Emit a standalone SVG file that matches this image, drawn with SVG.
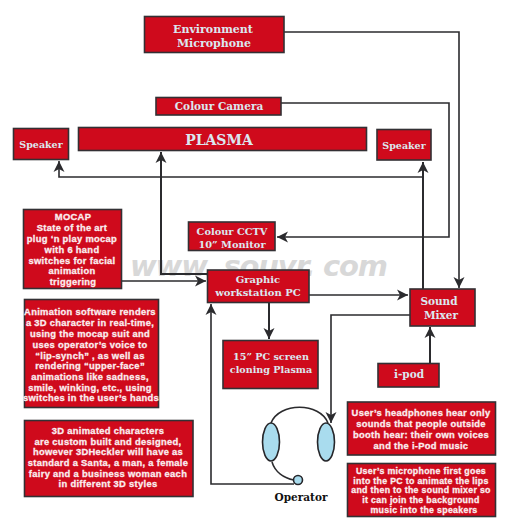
<svg xmlns="http://www.w3.org/2000/svg" width="511" height="532" viewBox="0 0 511 532">
<style>
.b{fill:#cf0a1c;stroke:#333034;stroke-width:1.6}
.s{font-family:"DejaVu Serif",serif;font-weight:700;fill:#dbe8f0;text-anchor:middle;font-size:10.500px}
.a{font-family:"Liberation Sans",Arial,sans-serif;font-weight:700;fill:#fbeef0;stroke:#fbeef0;stroke-width:.3;text-anchor:middle;font-size:9.400px;letter-spacing:.3px}
.m{font-size:8.800px}
.c{fill:none;stroke:#2b2b2e;stroke-width:1.6}
.t{stroke-width:2}
.w{font-family:"DejaVu Sans",sans-serif;font-weight:700;font-style:italic;font-size:29px;fill:#d8d8d8}
.e{fill:#a9dcee;stroke:#26262a;stroke-width:1.6}
</style>
<defs>
<marker id="h" markerUnits="userSpaceOnUse" markerWidth="14" markerHeight="14" refX="11" refY="6" orient="auto"><path d="M0,0.500L11,6L0,11.500L3,6Z" fill="#2b2b2e"/></marker>
</defs>
<text class="w" x="130" y="276" textLength="258">www. souvr. com</text>
<g id="connectors">
<path class="c" d="M284,32H459V288" marker-end="url(#h)"/>
<path class="c" d="M281,103H449V237H277" marker-end="url(#h)"/>
<path class="c" d="M423,177H59V161" marker-end="url(#h)"/>
<path class="c t" d="M423,289V162" marker-end="url(#h)"/>
<path class="c t" d="M207,274H161V152" marker-end="url(#h)"/>
<path class="c" d="M121,281H206" marker-end="url(#h)"/>
<path class="c" d="M309,295H408" marker-end="url(#h)"/>
<path class="c t" d="M269,303V339" marker-end="url(#h)"/>
<path class="c t" d="M430,363V327" marker-end="url(#h)"/>
<path class="c" d="M410,315H331V423" marker-end="url(#h)"/>
<path class="c" d="M294,484H211V304" marker-end="url(#h)"/>
</g>
<g id="env-mic"><rect class="b" x="144.500" y="16.500" width="139.500" height="36"/><text class="s" x="213" y="33" style="font-size:11px">Environment</text><text class="s" x="214" y="47" style="font-size:11px">Microphone</text></g>
<g id="camera"><rect class="b" x="156" y="97.500" width="125" height="17.500"/><text class="s" x="219" y="110">Colour Camera</text></g>
<g id="speaker-left"><rect class="b" x="13.500" y="128.500" width="55" height="31"/><text class="s" x="41" y="148" style="font-size:9.500px">Speaker</text></g>
<g id="plasma"><rect class="b" x="78.500" y="127.500" width="288" height="23"/><text class="s" x="219" y="145" style="font-size:14px">PLASMA</text></g>
<g id="speaker-right"><rect class="b" x="377" y="129.500" width="54" height="30.500"/><text class="s" x="404" y="149" style="font-size:9.500px">Speaker</text></g>
<g id="mocap"><rect class="b" x="23.500" y="209.500" width="98" height="79"/>
<text class="a" x="73" y="220">MOCAP</text><text class="a" x="72" y="231">State of the art</text><text class="a" x="72" y="242">plug ‘n play mocap</text><text class="a" x="72" y="253">with 6 hand</text><text class="a" x="72" y="264">switches for facial</text><text class="a" x="72" y="274">animation</text><text class="a" x="73" y="285">triggering</text></g>
<g id="software"><rect class="b" x="24.500" y="299.500" width="134" height="108"/>
<text class="a" x="90" y="315">Animation software renders</text><text class="a" x="90" y="326">a 3D character in real-time,</text><text class="a" x="90" y="337">using the mocap suit and</text><text class="a" x="90" y="348">uses  operator’s voice to</text><text class="a" x="90" y="359">“lip-synch” , as well as</text><text class="a" x="90" y="369">rendering “upper-face”</text><text class="a" x="90" y="380">animations like sadness,</text><text class="a" x="90" y="391">smile, winking, etc., using</text><text class="a" x="91" y="401">switches in the user’s hands</text></g>
<g id="characters"><rect class="b" x="24.500" y="420.500" width="168.500" height="76"/>
<text class="a" x="108" y="434">3D animated characters</text><text class="a" x="108" y="445">are custom built and designed,</text><text class="a" x="108" y="455">however 3DHeckler will have as</text><text class="a" x="108" y="466">standard a Santa, a man, a female</text><text class="a" x="108" y="477">fairy and a business woman each</text><text class="a" x="108" y="487">in different 3D styles</text></g>
<g id="cctv"><rect class="b" x="188.500" y="222" width="86.500" height="28.500"/><text class="s" x="232" y="234.500" style="font-size:9.800px">Colour CCTV</text><text class="s" x="232" y="247.500" style="font-size:9.800px">10” Monitor</text></g>
<g id="workstation"><rect class="b" x="207.500" y="270" width="101.500" height="32.500"/><text class="s" x="258" y="283" style="font-size:10px">Graphic</text><text class="s" x="258" y="296" style="font-size:10px">workstation PC</text></g>
<g id="screen"><rect class="b" x="223" y="340.500" width="95" height="48"/><text class="s" x="271" y="360" style="font-size:9.600px">15” PC screen</text><text class="s" x="271" y="373" style="font-size:9.600px">cloning Plasma</text></g>
<g id="mixer"><rect class="b" x="410" y="289" width="65" height="37"/><text class="s" x="439" y="305">Sound</text><text class="s" x="441" y="319">Mixer</text></g>
<g id="ipod"><rect class="b" x="378" y="363.500" width="61" height="23.500"/><text class="s" x="409" y="378">i-pod</text></g>
<g id="headphones-note"><rect class="b" x="347.500" y="402" width="148" height="53"/>
<text class="a" x="421" y="416">User’s headphones hear only</text><text class="a" x="421" y="427">sounds that people outside</text><text class="a" x="421" y="438">booth hear: their own voices</text><text class="a" x="421" y="449">and the i-Pod music</text></g>
<g id="microphone-note"><rect class="b" x="347.500" y="463.500" width="148" height="53"/>
<text class="a m" x="421" y="473.500">User’s microphone first goes</text><text class="a m" x="421" y="483.500">into the PC to animate the lips</text><text class="a m" x="421" y="493">and then to the sound mixer so</text><text class="a m" x="421" y="503">it can join the background</text><text class="a m" x="424" y="512.500">music into the speakers</text></g>
<g id="operator">
<path class="c" d="M271,423C279,402 320,402 328,423"/>
<path class="c" d="M272,462C275,472 284,478 294,480"/>
<ellipse class="e" cx="271" cy="442" rx="8.500" ry="19"/>
<ellipse class="e" cx="326" cy="442" rx="8.500" ry="19"/>
<circle class="e" cx="298" cy="480" r="4.500"/>
<text class="s" x="301" y="501" style="fill:#111">Operator</text>
</g>
</svg>
